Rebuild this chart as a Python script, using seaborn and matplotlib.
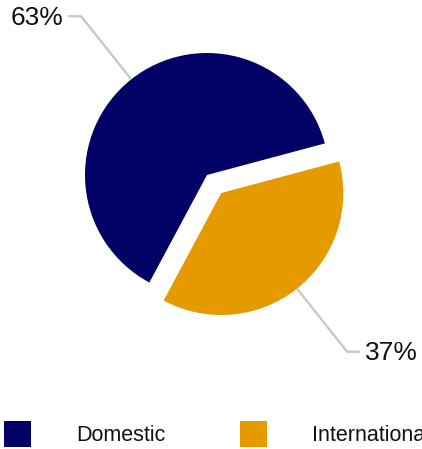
import matplotlib
matplotlib.use("Agg")
import numpy as np
import matplotlib.pyplot as plt
import seaborn as sns
from matplotlib.patches import Patch

# Passenger split
categories = ["Domestic", "International"]
shares = [63, 37]
colors = ["#020266", "#E59A00"]

sns.set_theme(style="white")
plt.rcParams["font.family"] = ["Liberation Sans", "DejaVu Sans"]

W, H = 422, 449
fig = plt.figure(figsize=(W / 100, H / 100), dpi=100)
ax = fig.add_axes([0, 0, 1, 1])

R = 122
center = (207, H - 175)
# explode offset is in data units (pixels here)
wedges, _ = ax.pie(
    shares,
    colors=colors,
    startangle=15,
    counterclock=True,
    explode=[0, 23],
    radius=R,
    center=center,
    wedgeprops=dict(linewidth=0),
)
ax.set_xlim(0, W)
ax.set_ylim(0, H)
ax.set_aspect("equal")
ax.axis("off")

# leader lines with elbow and percentage labels
for w, v in zip(wedges, shares):
    mid = np.deg2rad((w.theta1 + w.theta2) / 2)
    c = np.array(w.center)
    u = np.array([np.cos(mid), np.sin(mid)])
    p0 = c + R * u
    p1 = c + 1.66 * R * u
    d = 1 if u[0] > 0 else -1
    p2 = p1 + np.array([13 * d, 0])
    ax.plot([p0[0], p1[0], p2[0]], [p0[1], p1[1], p2[1]],
            color="#c8c8c8", lw=1.7, solid_capstyle="butt")
    ax.text(p2[0] + 5 * d, p2[1] - 1.5, f"{v}%", ha="left" if d > 0 else "right",
            va="center", fontsize=19, color="#111111")

handles = [Patch(facecolor=c, edgecolor="none") for c in colors]
fig.legend(
    handles, categories, ncol=2, loc="lower left",
    bbox_to_anchor=(4 / W, 2 / H), borderaxespad=0, borderpad=0,
    frameon=False, fontsize=15.5, handlelength=1.26, handleheight=1.45,
    handletextpad=2.1, columnspacing=3.45, labelcolor="#111111",
)

fig.savefig("out.png", dpi=100)
